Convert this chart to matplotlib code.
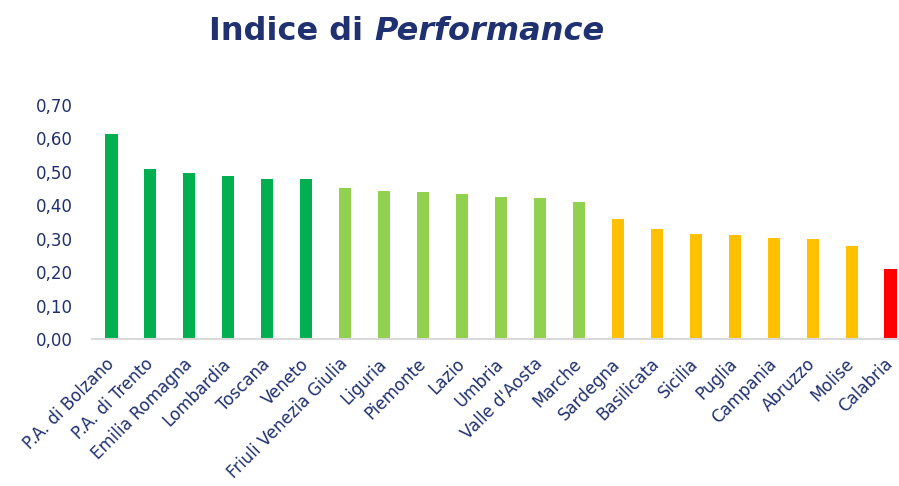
import matplotlib
matplotlib.use("Agg")
import matplotlib.pyplot as plt
from matplotlib.ticker import FixedLocator

regions = ["P.A. di Bolzano", "P.A. di Trento", "Emilia Romagna", "Lombardia", "Toscana",
           "Veneto", "Friuli Venezia Giulia", "Liguria", "Piemonte", "Lazio", "Umbria",
           "Valle d'Aosta", "Marche", "Sardegna", "Basilicata", "Sicilia", "Puglia",
           "Campania", "Abruzzo", "Molise", "Calabria"]
values = [0.613, 0.508, 0.497, 0.487, 0.479, 0.479, 0.452, 0.443, 0.440, 0.434, 0.425,
          0.422, 0.410, 0.359, 0.329, 0.314, 0.311, 0.302, 0.299, 0.278, 0.209]
groups = ["top"] * 6 + ["good"] * 7 + ["mid"] * 7 + ["low"]
palette = {"top": "#00B050", "good": "#92D050", "mid": "#FFC000", "low": "#FF0000"}
yticks = [0.0, 0.1, 0.2, 0.3, 0.4, 0.5, 0.6, 0.7]
ytick_labels = ["0,00", "0,10", "0,20", "0,30", "0,40", "0,50", "0,60", "0,70"]

navy = "#1F3170"
plt.rcParams['font.family'] = ['DejaVu Sans']

fig = plt.figure(figsize=(8.99, 4.86), dpi=100)
ax = fig.add_axes([92/899, 1 - 339/486, (910 - 92)/899, (339 - 105)/486])

x = list(range(len(regions)))
ax.bar(x, values, width=0.31, color=[palette[g] for g in groups], zorder=2)
ax.set_xlim(-0.5, len(regions) - 0.5)
ax.set_ylim(0, 0.70)
ax.yaxis.set_major_locator(FixedLocator(yticks))
ax.set_yticklabels(ytick_labels, fontsize=12, color=navy)
ax.set_xticks(x)
ax.set_xticklabels(regions, rotation=45, ha='right', va='center', rotation_mode='anchor',
                   fontsize=12, color=navy)
ax.tick_params(axis='both', length=0)
ax.tick_params(axis='y', pad=14)
ax.tick_params(axis='x', pad=16)
for s in ["top", "right", "left"]:
    ax.spines[s].set_visible(False)
ax.spines["bottom"].set_color("#D9D9D9")
ax.spines["bottom"].set_linewidth(1.5)

# Title with mixed styles
fig.canvas.draw()
r = fig.canvas.get_renderer()
t1 = fig.text(0, 1 - 32/486, "Indice di ", fontsize=23, fontweight='bold', color=navy,
              ha='left', va='center')
t2 = fig.text(0, 1 - 32/486, "Performance", fontsize=23, fontweight='bold',
              fontstyle='italic', color=navy, ha='left', va='center')
w1 = t1.get_window_extent(r).width / 899
w2 = t2.get_window_extent(r).width / 899
cx = 407 / 899
start = cx - (w1 + w2) / 2
t1.set_x(start)
t2.set_x(start + w1)

fig.savefig("out.png", dpi=100)
